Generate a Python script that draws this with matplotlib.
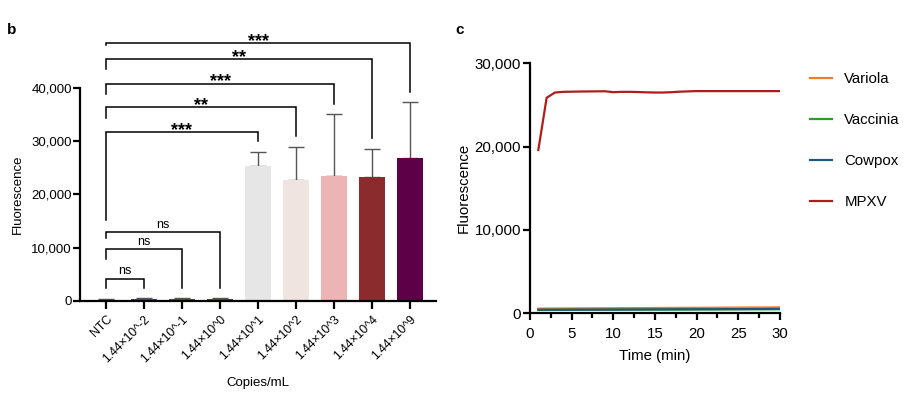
import matplotlib.pyplot as plt
import numpy as np

plt.rcParams['font.family'] = ['Liberation Sans', 'DejaVu Sans']

# Panel b: endpoint fluorescence by copy number
categories = ['NTC', '1.44×10^-2', '1.44×10^-1', '1.44×10^0', '1.44×10^1',
              '1.44×10^2', '1.44×10^3', '1.44×10^4', '1.44×10^9']
means = [200, 300, 350, 300, 25450, 22800, 23500, 23200, 26950]
errs = [100, 150, 150, 150, 2550, 6200, 11600, 5400, 10450]
bar_colors = ['#4a4a6a', '#4a4a6a', '#4a4a6a', '#4a4a6a', '#e6e6e6',
              '#f0e4e0', '#ecb4b4', '#8b2b2e', '#5e0048']

# significance brackets: (target index, bar y, left leg bottom, right leg bottom, label)
brackets = [
    (8, 48560, 48130, 39380, '***'),
    (7, 45510, 43630, 30690, '**'),
    (6, 40880, 39000, 37130, '***'),
    (5, 36380, 34440, 31070, '**'),
    (4, 31690, 15130, 30130, '***'),
    (3, 12940, 11760, 2380, 'ns'),
    (2, 9640, 7820, 2380, 'ns'),
    (1, 4130, 2380, 2380, 'ns'),
]

# Panel c: kinetics
time_min = np.arange(1, 31)
mpxv = [19600, 25870, 26500, 26580, 26600, 26620, 26630, 26640, 26650, 26540,
        26580, 26580, 26560, 26520, 26500, 26500, 26540, 26600, 26640, 26670,
        26670, 26670, 26670, 26670, 26670, 26670, 26670, 26670, 26670, 26670]
variola = [560, 570, 575, 580, 585, 590, 595, 600, 605, 610,
           615, 620, 625, 630, 635, 640, 645, 650, 655, 660,
           665, 670, 675, 680, 685, 690, 695, 700, 705, 710]
vaccinia = [400, 405, 410, 410, 415, 420, 420, 425, 430, 430,
            435, 440, 440, 445, 450, 450, 455, 460, 460, 465,
            470, 470, 475, 480, 480, 485, 490, 490, 495, 500]
cowpox = [420, 425, 430, 430, 435, 440, 440, 445, 450, 450,
          455, 460, 460, 465, 470, 470, 475, 480, 480, 485,
          490, 490, 495, 500, 500, 505, 510, 510, 515, 520]
series = [('Variola', variola, '#f47a20'),
          ('Vaccinia', vaccinia, '#2e9a2e'),
          ('Cowpox', cowpox, '#1f5a7a'),
          ('MPXV', mpxv, '#b01c1c')]

fig = plt.figure(figsize=(9.19, 3.98), dpi=100)

# ---- panel b ----
ax = fig.add_axes([0.0871, 0.2445, 0.3874, 0.5337])
x = np.arange(len(categories))
ax.bar(x, means, width=0.67, color=bar_colors, zorder=2)
ax.errorbar(x, means, yerr=[np.zeros(len(errs)), errs], fmt='none',
            ecolor='#555555', elinewidth=1, capsize=6, capthick=1, zorder=1)
ax.set_xlim(-0.68, 8.68)
ax.set_ylim(0, 40000)
ax.set_yticks([0, 10000, 20000, 30000, 40000])
ax.set_yticklabels(['0', '10,000', '20,000', '30,000', '40,000'])
ax.set_xticks(x)
ax.set_xticklabels(categories, rotation=45, ha='right', rotation_mode='anchor')
for sp in ['top', 'right']:
    ax.spines[sp].set_visible(False)
for sp in ['left', 'bottom']:
    ax.spines[sp].set_linewidth(1.6)
ax.tick_params(axis='y', length=5, width=1.6, labelsize=9.5, pad=1)
ax.tick_params(axis='x', length=6, width=1.6, labelsize=8.8, pad=3)
ax.set_ylabel('Fluorescence', fontsize=9.5, labelpad=5)
ax.set_xlabel('Copies/mL', fontsize=9.5, labelpad=9)

for idx, ybar, yleft, yright, lab in brackets:
    ax.plot([0, 0, idx, idx], [yleft, ybar, ybar, yright], color='black',
            lw=1.1, clip_on=False, solid_joinstyle='miter')
    if lab == 'ns':
        ax.text(idx / 2, ybar + 250, lab, ha='center', va='bottom', fontsize=9)
    else:
        ax.text(idx / 2, ybar - 1300, lab, ha='center', va='bottom',
                fontsize=13, fontweight='bold')

# ---- panel c ----
ax2 = fig.add_axes([0.5767, 0.2128, 0.272, 0.628])
for name, vals, col in series:
    ax2.plot(time_min, vals, color=col, lw=1.6, label=name)
ax2.set_xlim(0, 30)
ax2.set_ylim(0, 30000)
ax2.set_xticks([0, 5, 10, 15, 20, 25, 30])
ax2.set_xticks(np.arange(2.5, 30, 5), minor=True)
ax2.set_yticks([0, 10000, 20000, 30000])
ax2.set_yticklabels(['0', '10,000', '20,000', '30,000'])
for sp in ['top', 'right']:
    ax2.spines[sp].set_visible(False)
for sp in ['left', 'bottom']:
    ax2.spines[sp].set_linewidth(1.6)
ax2.tick_params(axis='y', which='major', length=5, width=1.6, labelsize=10.8, pad=1.5)
ax2.tick_params(axis='x', which='major', length=5, width=1.6, labelsize=10.8, pad=4.5)
ax2.tick_params(axis='x', which='minor', length=3.5, width=1.6)
ax2.set_ylabel('Fluorescence', fontsize=10.8, labelpad=3)
ax2.set_xlabel('Time (min)', fontsize=10.8, labelpad=6)
ax2.legend(loc='upper left', bbox_to_anchor=(0.8665, 0.853), bbox_transform=fig.transFigure,
           frameon=False, fontsize=10.8, handlelength=1.5, handletextpad=0.8,
           labelspacing=1.8)

fig.text(0.008, 0.915, 'b', fontsize=11, fontweight='bold')
fig.text(0.495, 0.915, 'c', fontsize=11, fontweight='bold')

fig.savefig('out.png', dpi=100)
